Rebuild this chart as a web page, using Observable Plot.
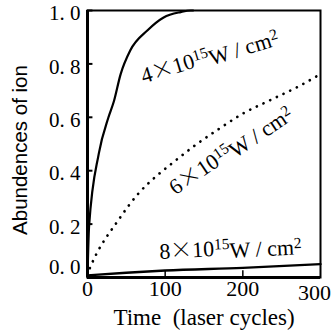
<!DOCTYPE html>
<html><head><meta charset="utf-8">
<script src="https://cdn.jsdelivr.net/npm/d3@7"></script>
<script src="https://cdn.jsdelivr.net/npm/@observablehq/plot@0.6"></script>
<style>body{margin:0;background:#fff}</style>
</head><body><div id="chart"></div>
<script>
const xTicks = [0, 100, 200, 300];
const yTicks = [0.2, 0.4, 0.6, 0.8, 1.0];
const xTitle = "Time  (laser cycles)";
const yTitle = "Abundences of ion";

const s4x = [0, 2, 14.6, 27, 34, 42.5, 55, 77, 98, 120, 133, 136];
const s4y = [0, 0.19, 0.465, 0.60, 0.66, 0.76, 0.85, 0.925, 0.974, 0.994, 1.0, 1.0];
const s6x = [3, 6, 40, 66, 88, 109, 139, 169, 199, 238, 272, 300];
const s6y = [0.035, 0.055, 0.216, 0.316, 0.378, 0.428, 0.496, 0.556, 0.612, 0.668, 0.716, 0.762];
const s8x = [0, 50, 100, 200, 300];
const s8y = [0.008, 0.018, 0.026, 0.036, 0.05];

const labelLead = ["4", "6", "8"];
const labelTimes = "×";
const labelTen = "10";
const labelExp = "15";
const labelUnit = "W / cm";
const labelUnitExp = "2";
const labelX = [157, 184, 184];
const labelY = [0.83, 0.478, 0.11];
const labelAngle = [-17, -34, -3];

const toRows = (xs, ys) => xs.map((x, i) => ({x, y: ys[i]}));
const labelRows = labelLead.map((t, i) => ({t: t + labelTimes + labelTen + labelExp + labelUnit + labelUnitExp, lead: t, x: labelX[i], y: labelY[i], a: labelAngle[i]}));

const chart = Plot.plot({
  width: 333, height: 333,
  marginLeft: 87, marginRight: 13, marginTop: 10, marginBottom: 56,
  style: {fontFamily: "'Liberation Serif', 'DejaVu Serif', serif", fontSize: "22px", color: "#000", background: "#fff"},
  x: {domain: [0, 300]},
  y: {domain: [0, 1]},
  marks: [
    Plot.axisX({ticks: xTicks.slice(0, 3), tickSize: 0, tickPadding: 3, tickFormat: d => String(d),
      label: null}),
    Plot.text([String(xTicks[3])], {x: xTicks[3], frameAnchor: "bottom", dx: -6, dy: 15, lineAnchor: "middle"}),
    Plot.text([xTitle], {frameAnchor: "bottom", dy: 40, fontSize: 23, lineAnchor: "middle"}),
    Plot.axisY({ticks: yTicks, tickSize: 0, tickPadding: 7, label: null, fontSize: 21, dy: 3,
      tickFormat: d => d3.format(".1f")(d).replace(".", ". ")}),
    Plot.text(["0. 0"], {x: 0, y: 0, dx: -7, dy: -10, textAnchor: "end", fontSize: 21}),
    Plot.text([yTitle], {frameAnchor: "left", textAnchor: "middle", rotate: -90, dx: -67, dy: 6,
      fontFamily: "'Liberation Sans', Arial, sans-serif", fontSize: 20.5}),
    Plot.ruleY(yTicks, {x1: 0, x2: 7, strokeWidth: 2}),
    Plot.ruleX([100, 200], {y1: 0, y2: 0.025, strokeWidth: 1.5}),
    Plot.line(toRows(s4x, s4y), {x: "x", y: "y", curve: "monotone-x", strokeWidth: 2.2}),
    Plot.line(toRows(s6x, s6y), {x: "x", y: "y", curve: "monotone-x", strokeWidth: 2.7,
      strokeDasharray: "0.1,7.3", strokeLinecap: "round"}),
    Plot.line(toRows(s8x, s8y), {x: "x", y: "y", curve: "monotone-x", strokeWidth: 2.4}),
    Plot.text(labelRows, {x: "x", y: "y", text: "t", rotate: "a", fontSize: 22, className: "pwr"}),
    Plot.frame({strokeWidth: 2}),
    Plot.ruleX([0], {strokeWidth: 3}),
    Plot.ruleY([0], {strokeWidth: 3})
  ]
});
// render the label pieces: wide multiplication sign and superscript exponents
d3.select(chart).selectAll(".pwr text").each(function(i) {
  const lead = this.textContent.slice(0, 1);
  const t = d3.select(this).text(null);
  t.append("tspan").text(lead);
  t.append("tspan").attr("font-family", "'Noto Sans CJK SC', sans-serif").attr("font-weight", 300).text(labelTimes);
  t.append("tspan").text(labelTen);
  t.append("tspan").attr("dy", "-0.42em").attr("font-size", "0.7em").text(labelExp);
  t.append("tspan").attr("dy", "0.42em").text(labelUnit);
  t.append("tspan").attr("dy", "-0.42em").attr("font-size", "0.7em").text(labelUnitExp);
});
document.getElementById("chart").append(chart);
</script></body></html>
